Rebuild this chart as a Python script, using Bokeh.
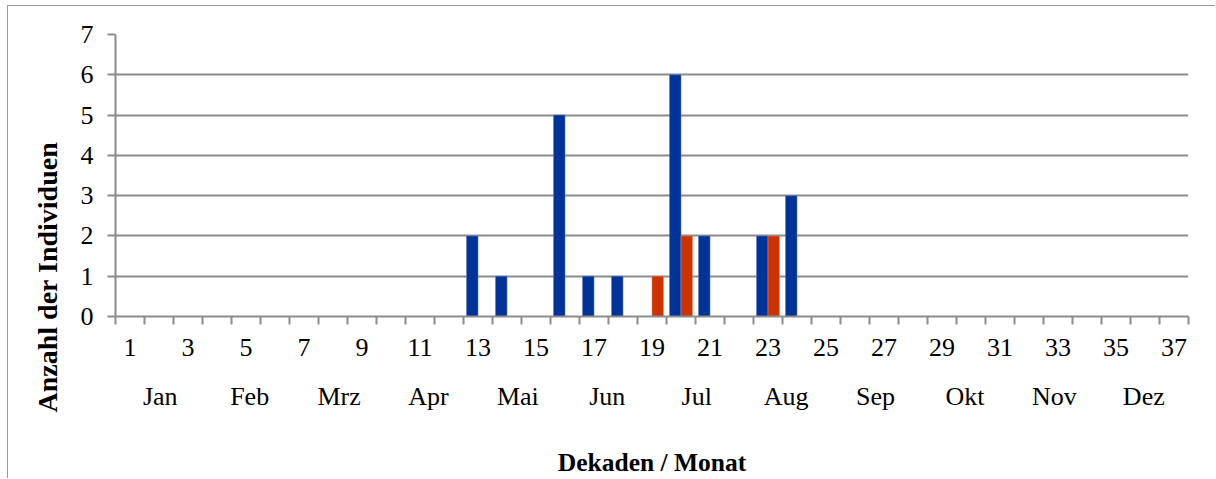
from bokeh.plotting import figure
from bokeh.models import ColumnDataSource, FixedTicker, LinearAxis, Range1d, Title
from bokeh.transform import dodge
from bokeh.embed import file_html
from bokeh.resources import INLINE

# Data
decades = list(range(1, 38))
blue_vals = [0]*12 + [2, 1, 0, 5, 1, 1, 0, 6, 2, 0, 2, 3] + [0]*13
red_vals = [0]*18 + [1, 2, 0, 0, 2] + [0]*14
odd_ticks = list(range(1, 38, 2))
months = ["Jan", "Feb", "Mrz", "Apr", "Mai", "Jun", "Jul", "Aug", "Sep", "Okt", "Nov", "Dez"]
y_ticks = list(range(0, 8))
y_title = "Anzahl der Individuen"
x_title = "Dekaden / Monat"

n = len(decades)
src = ColumnDataSource(dict(x=decades, blue=blue_vals, red=red_vals))

FONT = "Liberation Serif"
GRAY = "#8c8c8c"

p = figure(width=1208, height=473, output_backend="svg", toolbar_location=None,
           x_range=Range1d(0.5, n + 0.5), y_range=Range1d(0, 7),
           min_border_left=107, min_border_right=28, min_border_top=28, min_border_bottom=10,
           x_axis_location=None)
p.outline_line_color = None
p.background_fill_color = "white"
p.border_fill_color = "white"
p.styles = {"border-left": "1px solid #9a9a9a", "border-top": "1px solid #9a9a9a",
            "margin-left": "7px", "margin-top": "5px"}

bw = 0.395
p.vbar(x=dodge("x", -bw / 2, range=p.x_range), top="blue", width=bw, source=src,
       fill_color="#003399", line_color="#5a78b8", line_width=0.6)
p.vbar(x=dodge("x", bw / 2, range=p.x_range), top="red", width=bw, source=src,
       fill_color="#cc3300", line_color="#e08060", line_width=0.6)

# y axis
ya = p.yaxis[0]
ya.ticker = FixedTicker(ticks=y_ticks)
ya.axis_line_color = GRAY
ya.axis_line_width = 2
ya.major_tick_line_color = GRAY
ya.major_tick_line_width = 2
ya.major_tick_out = 8
ya.major_tick_in = 0
ya.minor_tick_line_color = None
ya.major_label_text_font = FONT
ya.major_label_text_font_size = "26px"
ya.major_label_text_color = "black"
ya.major_label_standoff = 14

p.ygrid.ticker = FixedTicker(ticks=y_ticks)
p.ygrid.grid_line_color = GRAY
p.ygrid.grid_line_width = 2
p.xgrid.grid_line_color = None

# y title, starting below the frame bottom like the original
p.add_layout(Title(text=y_title, align="left", offset=-96, standoff=30,
                   text_font=FONT, text_font_size="28px", text_font_style="bold",
                   text_color="black"), "left")

# x axis: numbers with boundary tick marks
boundaries = [i + 0.5 for i in range(0, n + 1)]
xa = LinearAxis(ticker=FixedTicker(ticks=odd_ticks, minor_ticks=boundaries))
xa.axis_line_color = GRAY
xa.axis_line_width = 2
xa.major_tick_line_color = None
xa.major_tick_out = 8
xa.major_tick_in = 0
xa.minor_tick_line_color = GRAY
xa.minor_tick_line_width = 2
xa.minor_tick_out = 8
xa.minor_tick_in = 0
xa.major_label_text_font = FONT
xa.major_label_text_font_size = "26px"
xa.major_label_text_color = "black"
xa.major_label_standoff = 14
p.add_layout(xa, "below")

# month axis
month_pos = [0.5 + n / 12 * (k + 0.5) for k in range(12)]
ma = LinearAxis(ticker=FixedTicker(ticks=month_pos),
                major_label_overrides={pos: m for pos, m in zip(month_pos, months)})
ma.axis_line_color = None
ma.major_tick_line_color = None
ma.minor_tick_line_color = None
ma.major_tick_out = 0
ma.major_tick_in = 0
ma.major_label_text_font = FONT
ma.major_label_text_font_size = "26px"
ma.major_label_text_color = "black"
ma.major_label_standoff = 23
ma.axis_label = x_title
ma.axis_label_text_font = FONT
ma.axis_label_text_font_size = "25.5px"
ma.axis_label_text_font_style = "bold"
ma.axis_label_text_color = "black"
ma.axis_label_standoff = 34
p.add_layout(ma, "below")

open("out.html", "w").write(file_html(p, INLINE))
